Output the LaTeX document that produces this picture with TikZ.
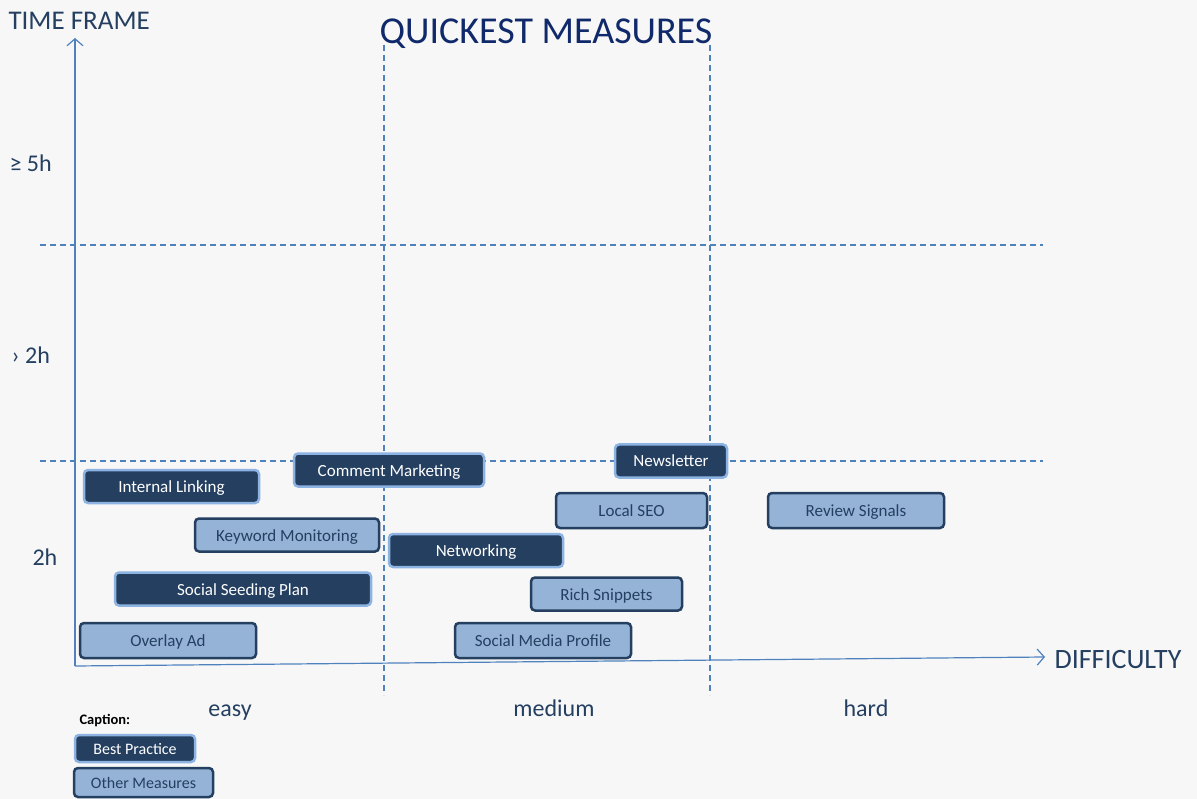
\documentclass[tikz,border=0pt]{standalone}
\usepackage{fontspec}
\setmainfont{Carlito}
\usetikzlibrary{arrows.meta}
\definecolor{navy}{HTML}{243F60}
\definecolor{lightfill}{HTML}{95B3D7}
\definecolor{lightedge}{HTML}{8DB3E2}
\definecolor{axisblue}{HTML}{4F81BD}
\definecolor{bgcol}{HTML}{F7F7F7}
\definecolor{titlecol}{HTML}{10296B}
\begin{document}
\begin{tikzpicture}[x=1pt,y=-1pt,
        measure/.style={rounded corners=4pt,line width=2.5pt,inner sep=0pt,
            minimum height=33,text height=13pt,text depth=1pt,
            font=\fontsize{17}{20}\selectfont},
        best/.style={measure,fill=navy,draw=lightedge,text=white},
        other/.style={measure,fill=lightfill,draw=navy,text=navy},
        grid/.style={axisblue,dashed,dash pattern=on 6pt off 4pt,line width=1.2pt},
        axis/.style={axisblue,line width=1.2pt,-{Straight Barb[length=7pt,width=16pt]}},
        label/.style={text=navy,font=\fontsize{24}{28}\selectfont}]
    \fill[bgcol] (0,0) rectangle (1197,799);

    % grid lines
    \draw[grid] (384,45) -- (384,695);
    \draw[grid] (710,45) -- (710,695);
    \draw[grid] (40,245) -- (1043,245);
    \draw[grid] (40,461) -- (1043,461);

    % axes
    \coordinate (origin) at (75,666);
    \coordinate (ytop) at (75,38);
    \coordinate (xend) at (1045,657);
    \draw[axis] (origin) -- (ytop);
    \draw[axis] (origin) -- (xend);

    \node[text=titlecol,font=\fontsize{38}{44}\selectfont] (title) at (546,34) {QUICKEST MEASURES};
    \node[text=navy,font=\fontsize{27}{32}\selectfont,anchor=west] (ylabel) at (5,21) {TIME FRAME};
    \node[text=navy,font=\fontsize{28}{32}\selectfont,anchor=west] (xlabel) at (1051,660) {DIFFICULTY};

    \node[label,anchor=west] (five) at (6,163) {≥ 5h};
    \node[label,anchor=west] (more) at (8,355) {› 2h};
    \node[label,anchor=west] (two) at (29,557) {2h};
    \node[label,anchor=base] (easy) at (230,716) {easy};
    \node[label,anchor=base] (medium) at (554,716) {medium};
    \node[label,anchor=base] (hard) at (866,716) {hard};

    % measures
    \node[best,minimum width=175] (linking) at (171.5,486.5) {Internal Linking};
    \node[best,minimum width=190] (comment) at (389,470) {Comment Marketing};
    \node[other,minimum width=184] (keyword) at (287,535) {Keyword Monitoring};
    \node[best,minimum width=174] (network) at (476,550.5) {Networking};
    \node[best,minimum width=256] (seeding) at (243,589) {Social Seeding Plan};
    \node[other,minimum width=176,minimum height=35] (overlay) at (168,640.5) {Overlay Ad};
    \node[other,minimum width=176,minimum height=35] (profile) at (543,640.5) {Social Media Profile};
    \node[other,minimum width=151] (snippets) at (606.5,594) {Rich Snippets};
    \node[other,minimum width=151,minimum height=35] (localseo) at (631.5,510.5) {Local SEO};
    \node[best,minimum width=112] (letter) at (671,461) {Newsletter};
    \node[other,minimum width=176,minimum height=35] (review) at (856,510.5) {Review Signals};

    % caption
    \node[anchor=west,font=\bfseries\fontsize{14.5}{17}\selectfont] (caption) at (76,721) {Caption:};
    \node[best,minimum width=120,minimum height=27,text height=12pt,
        font=\fontsize{16}{18}\selectfont] (bestkey) at (135,748.5) {Best Practice};
    \node[other,minimum width=139,minimum height=29,text height=12pt,
        font=\fontsize{16}{18}\selectfont] (otherkey) at (143.5,782.5) {Other Measures};
\end{tikzpicture}
\end{document}
